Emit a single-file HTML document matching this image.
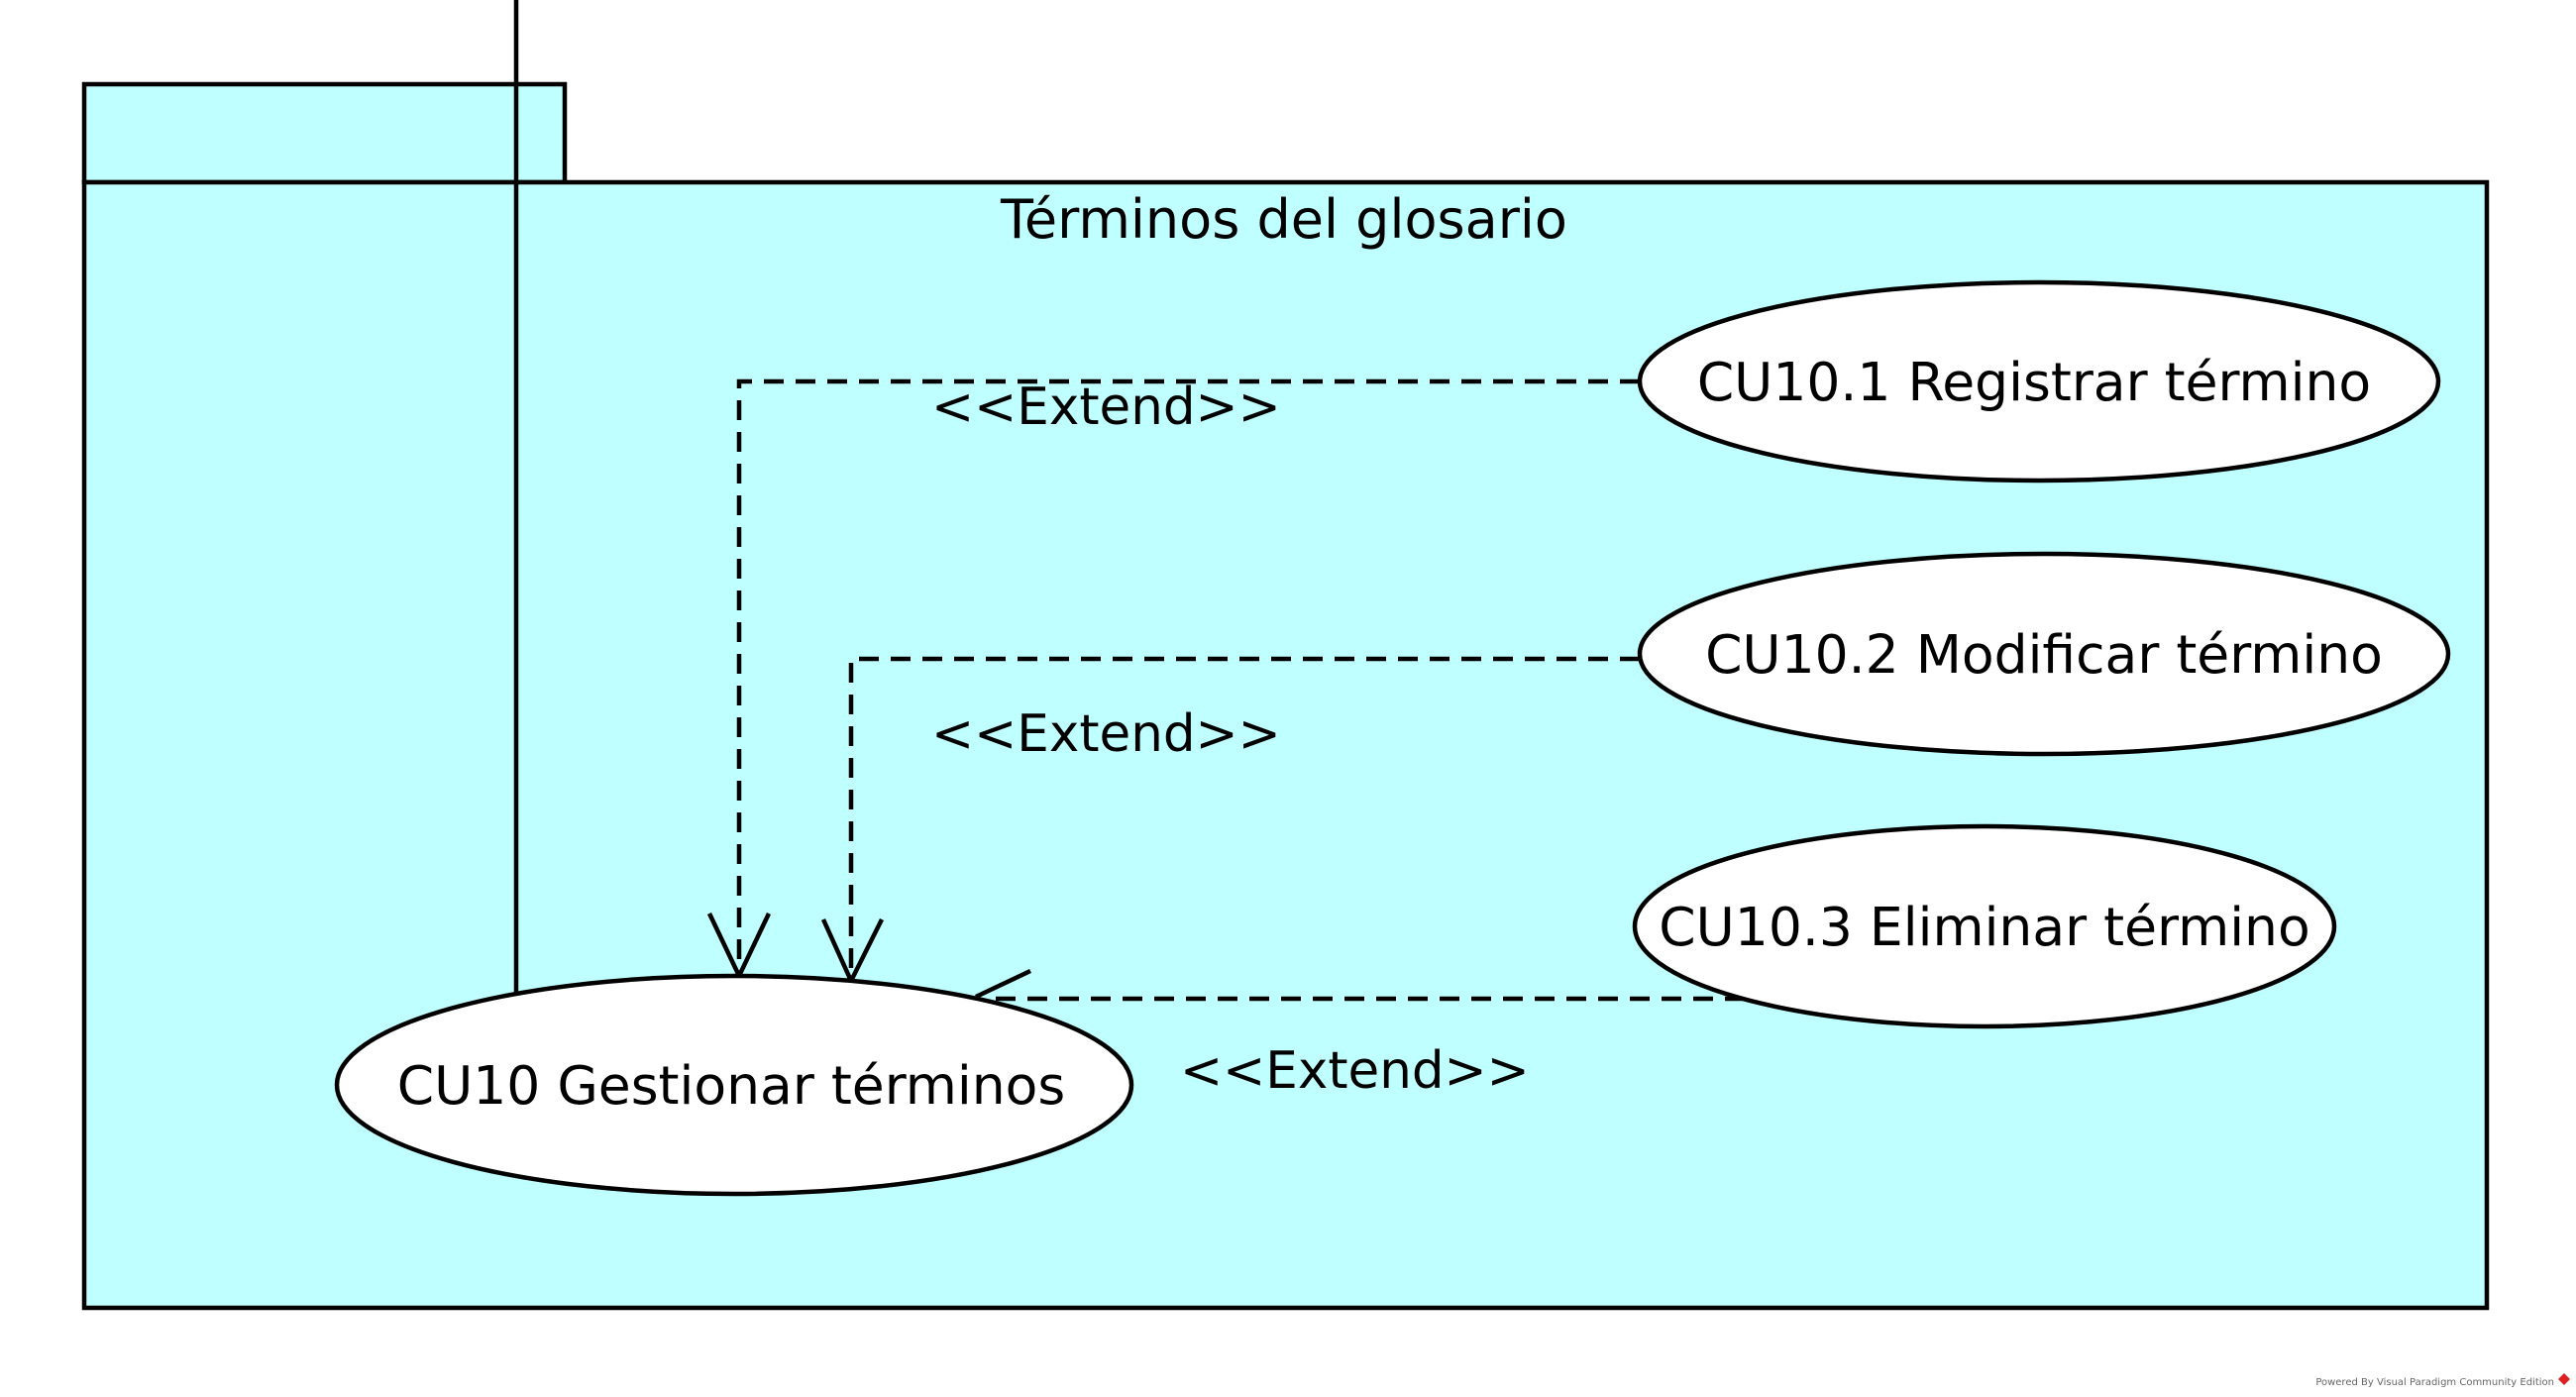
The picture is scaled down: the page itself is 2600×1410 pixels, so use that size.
<!DOCTYPE html>
<html><head><meta charset="utf-8"><style>
html,body{margin:0;padding:0;background:#fff;width:2600px;height:1410px;overflow:hidden}
svg{display:block}
text{font-family:"DejaVu Sans","Liberation Sans",sans-serif;fill:#000}
</style></head><body>
<svg width="2600" height="1410" viewBox="0 0 2600 1410" xmlns="http://www.w3.org/2000/svg">
<rect x="85" y="85" width="485" height="99" fill="#c0ffff" stroke="#000" stroke-width="4.5"/>
<rect x="85" y="184" width="2425" height="1136" fill="#c0ffff" stroke="#000" stroke-width="4.5"/>
<line x1="521" y1="0" x2="521" y2="1003" stroke="#000" stroke-width="4.5"/>
<text x="1296" y="240" font-size="54" text-anchor="middle">Términos del glosario</text>

<g fill="none" stroke="#000" stroke-width="4.5" stroke-dasharray="20,12">
<polyline points="1655,385 746,385 746,983"/>
<polyline points="1655,665 859,665 859,988"/>
<line x1="1761" y1="1008" x2="1005" y2="1008"/>
</g>
<g fill="none" stroke="#000" stroke-width="4.5">
<polyline points="716,922 746,985 776,922"/>
<polyline points="831,928 859,990 890,928"/>
<line x1="1040" y1="980" x2="985" y2="1006"/>
</g>

<ellipse cx="2058" cy="385" rx="403" ry="100" fill="#fff" stroke="#000" stroke-width="4.5"/>
<ellipse cx="2063" cy="660" rx="408" ry="101" fill="#fff" stroke="#000" stroke-width="4.5"/>
<ellipse cx="2003" cy="935" rx="353" ry="101" fill="#fff" stroke="#000" stroke-width="4.5"/>
<ellipse cx="741" cy="1095" rx="401" ry="110" fill="#fff" stroke="#000" stroke-width="4.5"/>

<text x="2053" y="404" font-size="53.5" text-anchor="middle">CU10.1 Registrar término</text>
<text x="2063" y="679" font-size="53.5" text-anchor="middle">CU10.2 Modificar término</text>
<text x="2003" y="954" font-size="53.5" text-anchor="middle">CU10.3 Eliminar término</text>
<text x="738" y="1114" font-size="53.5" text-anchor="middle">CU10 Gestionar términos</text>

<text x="940" y="428" font-size="51.5">&lt;&lt;Extend&gt;&gt;</text>
<text x="940" y="758" font-size="51.5">&lt;&lt;Extend&gt;&gt;</text>
<text x="1191" y="1098" font-size="51.5">&lt;&lt;Extend&gt;&gt;</text>

<text x="2578" y="1398" font-size="10" text-anchor="end" style="fill:#666">Powered By Visual Paradigm Community Edition</text>
<polygon points="2588,1386 2594,1392 2588,1398 2582,1392" fill="#d22"/>
</svg>
</body></html>
